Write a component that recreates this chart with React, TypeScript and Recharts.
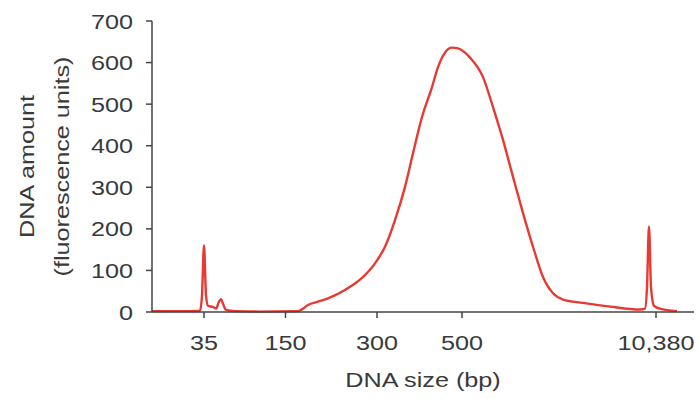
import { Line, LineChart, XAxis, YAxis } from "recharts";

// Electropherogram trace: migration time (s) vs fluorescence.
const migrationTime = [
  20.0, 23.8, 24.8, 25.0, 25.2, 25.4, 25.6, 26.1, 26.4, 26.7, 26.9, 27.1, 27.4, 28.3, 30.8, 34.6,
  34.9, 35.6, 36.6, 37.6, 39.3, 41.0, 42.3, 43.3, 44.3, 45.3, 46.1, 47.0, 48.0, 48.6, 49.3, 50.0,
  50.6, 51.3, 51.8, 53.1, 54.1, 55.1, 56.1, 57.1, 58.1, 59.1, 60.1, 61.1, 63.1, 65.8, 68.8, 69.3,
  69.5, 69.7, 69.9, 70.2, 70.8, 72.5,
];
const fluorescence = [
  2, 2, 3, 40, 160, 40, 15, 12, 8, 25, 31, 20, 5, 2, 1, 2,
  5, 17, 25, 33, 53, 82, 117, 157, 221, 301, 382, 469, 541, 589, 624, 636,
  634, 624, 612, 565, 493, 414, 325, 238, 157, 84, 45, 30, 22, 13, 6, 8,
  60, 206, 60, 15, 8, 2,
];

// ladder sizes (bp) and where they run
const tickTimes = [25.2, 33.35, 42.5, 51.0, 70.4];
const sizeLabels = ["35", "150", "300", "500", "10,380"];
const yTicks = [0, 100, 200, 300, 400, 500, 600, 700];

const data = migrationTime.map((t, i) => ({ t, fu: fluorescence[i] }));

const FONT = '"Liberation Sans", Arial, Helvetica, sans-serif';
const INK = "#3a3a3a";
const AXIS_COLOR = "#444";
const RED = "#e63a32";
const STRETCH = 1.2;

function XTick({ x, y, index }: any) {
  return (
    <text
      transform={`translate(${x},${y + 30}) scale(${STRETCH},1)`}
      textAnchor="middle"
      fontSize={21}
      fontFamily={FONT}
      fill={INK}
    >
      {sizeLabels[index]}
    </text>
  );
}

function YTick({ x, y, payload }: any) {
  return (
    <text
      transform={`translate(${x},${y + 7.5}) scale(${STRETCH},1)`}
      textAnchor="end"
      fontSize={21}
      fontFamily={FONT}
      fill={INK}
    >
      {payload.value}
    </text>
  );
}

function XTitle({ viewBox }: any) {
  const cx = viewBox.x + viewBox.width / 2;
  return (
    <text
      transform={`translate(${cx},${viewBox.y + 75}) scale(${STRETCH},1)`}
      textAnchor="middle"
      fontSize={21}
      fontFamily={FONT}
      fill={INK}
    >
      DNA size (bp)
    </text>
  );
}

function YTitle({ viewBox }: any) {
  const cy = viewBox.y + viewBox.height / 2;
  return (
    <text
      transform={`translate(34,${cy}) rotate(-90) scale(${STRETCH},1)`}
      textAnchor="middle"
      fontSize={21}
      fontFamily={FONT}
      fill={INK}
    >
      <tspan x={0} y={0}>DNA amount</tspan>
      <tspan x={0} y={35}>(fluorescence units)</tspan>
    </text>
  );
}

export default function App() {
  return (
    <div style={{ position: "absolute", left: 0, top: 0, width: 699, height: 399 }}>
      <LineChart width={699} height={399} data={data} margin={{ top: 21, right: 5, bottom: 0, left: 0 }}>
        <XAxis
          type="number"
          dataKey="t"
          domain={[20, 74.2]}
          ticks={tickTimes}
          allowDataOverflow
          height={87}
          tickSize={6}
          tickMargin={2}
          tick={<XTick />}
          stroke={AXIS_COLOR}
          strokeWidth={1.5}
          label={{ content: <XTitle /> }}
        />
        <YAxis
          type="number"
          domain={[0, 700]}
          ticks={yTicks}
          width={152}
          tickSize={6}
          tickMargin={13}
          tick={<YTick />}
          stroke={AXIS_COLOR}
          strokeWidth={1.5}
          label={{ content: <YTitle /> }}
        />
        <Line
          type="monotone"
          dataKey="fu"
          stroke={RED}
          strokeWidth={2.4}
          dot={false}
          isAnimationActive={false}
        />
      </LineChart>
    </div>
  );
}
